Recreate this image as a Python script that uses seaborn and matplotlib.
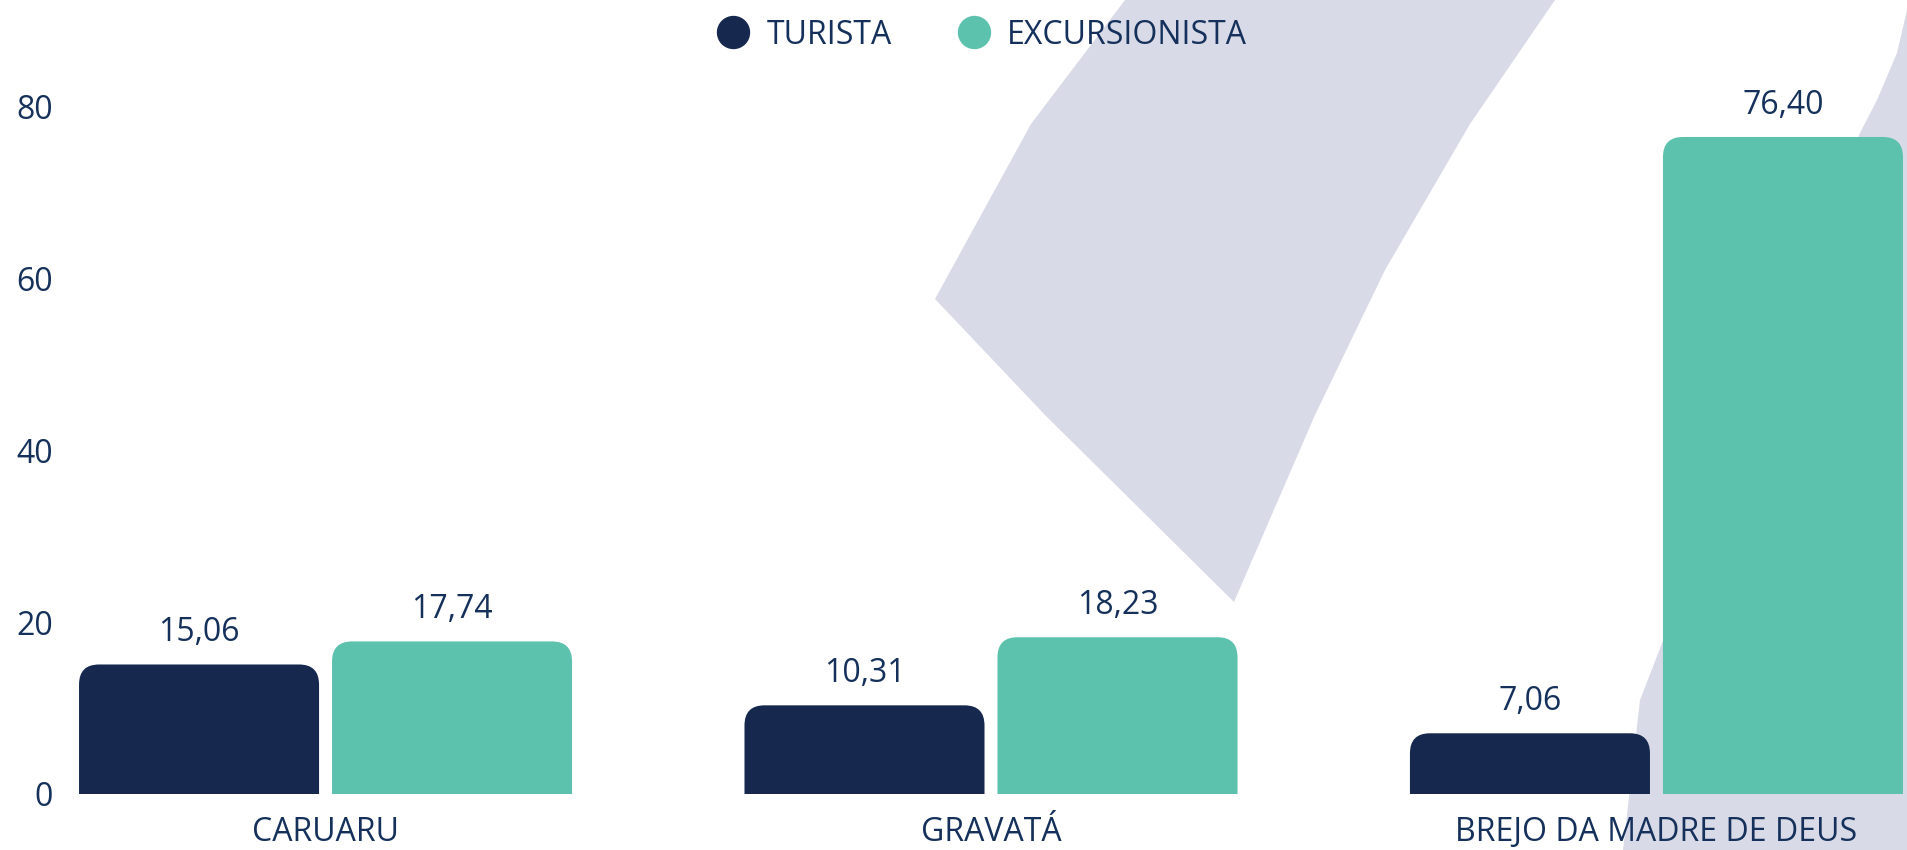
import pandas as pd
import numpy as np
import matplotlib.pyplot as plt
import seaborn as sns
from matplotlib.patches import FancyBboxPatch, Polygon
from matplotlib.lines import Line2D

# data
cidades = ['CARUARU', 'GRAVATÁ', 'BREJO DA MADRE DE DEUS']
turista = [15.06, 10.31, 7.06]
excursionista = [17.74, 18.23, 76.40]
series = ['TURISTA', 'EXCURSIONISTA']
cores = ['#16284d', '#5cc2ad']
texto = '#15315b'

df = pd.DataFrame({'cidade': cidades * 2,
                   'tipo': [series[0]] * 3 + [series[1]] * 3,
                   'valor': turista + excursionista})

sns.set_style('white')
plt.rcParams['font.family'] = ['Open Sans', 'DejaVu Sans']

fig = plt.figure(figsize=(19.07, 8.5), dpi=100)
W, H = 1907, 850

# background watermark shapes (pixel coords, top-left origin)
def px(pts):
    return [(x / W, 1 - y / H) for x, y in pts]

grey = '#d9dae7'
fig.patches.append(Polygon(px([(1125, 0), (1555, 0), (1470, 124), (1385, 270), (1315, 415),
                               (1234, 602), (1045, 415), (935, 299), (1031, 124)]),
                           closed=True, transform=fig.transFigure, fc=grey, ec='none', zorder=-1))
fig.patches.append(Polygon(px([(1907, 10), (1897, 53), (1877, 100), (1860, 133), (1640, 700),
                               (1623, 850), (1907, 850)]),
                           closed=True, transform=fig.transFigure, fc=grey, ec='none', zorder=-1))

ax = fig.add_axes([78 / W, 56 / H, (1905 - 79) / W, 734 / H])
ax.patch.set_alpha(0)

sns.barplot(data=df, x='cidade', y='valor', hue='tipo', palette=cores,
            width=0.7604, gap=0.0513, legend=False, ax=ax, saturation=1)

ax.set_xlim(-0.372, 2.372)
ax.set_ylim(0, 85.35)

# rounded tops
rx = 0.030
ry = 2.33
bars = list(ax.patches)
for b in bars:
    x, w, h = b.get_x(), b.get_width(), b.get_height()
    c = b.get_facecolor()
    b.set_visible(False)
    fb = FancyBboxPatch((x, -ry), w, h + ry, boxstyle=f'round,pad=0,rounding_size={rx}',
                        mutation_aspect=ry / rx, fc=c, ec='none', zorder=2)
    ax.add_patch(fb)
    ax.annotate(f'{h:.2f}'.replace('.', ','), (x + w / 2, h), xytext=(0, 11),
                textcoords='offset points', ha='center', va='bottom',
                fontsize=23, color=texto)

ax.set_yticks([0, 20, 40, 60, 80])
ax.tick_params(axis='y', length=0, pad=18, labelsize=23, labelcolor=texto)
ax.tick_params(axis='x', length=0, pad=16, labelsize=23, labelcolor=texto)
ax.set_xlabel('')
ax.set_ylabel('')
sns.despine(ax=ax, left=True, bottom=True)

handles = [Line2D([], [], marker='o', ls='', markersize=23, color=c) for c in cores]
fig.legend(handles, series, loc='center', bbox_to_anchor=(982 / W, 1 - 35 / H), ncol=2,
           frameon=False, fontsize=23, labelcolor=texto, handletextpad=0.55,
           columnspacing=2.07, handlelength=1.0)

fig.savefig('out.png', dpi=100, facecolor='white')
